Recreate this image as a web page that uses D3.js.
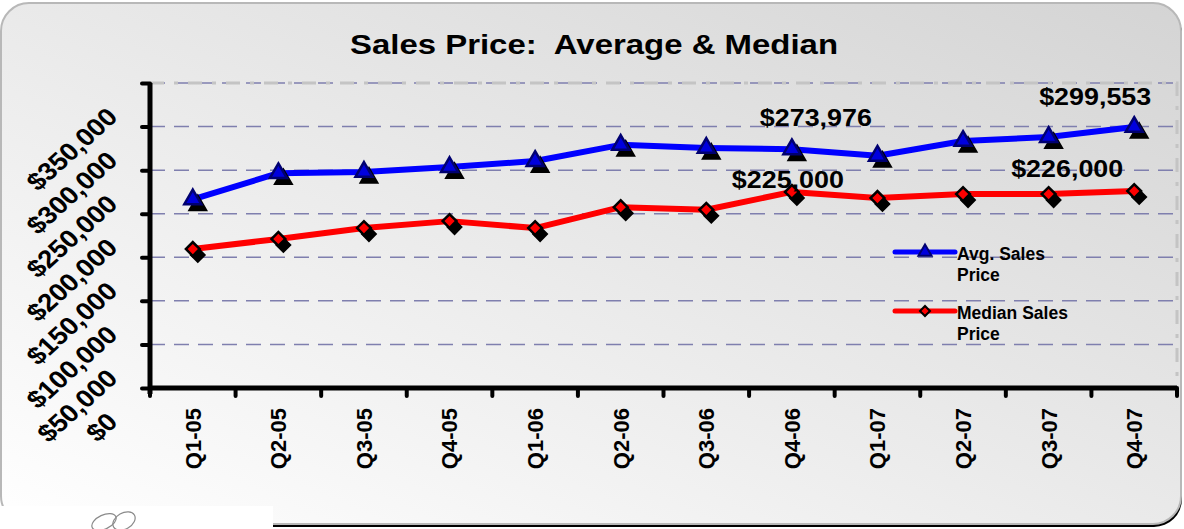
<!DOCTYPE html>
<html>
<head>
<meta charset="utf-8">
<script src="https://cdn.jsdelivr.net/npm/d3@7"></script>
<style>
  html, body { margin: 0; padding: 0; background: #fff; }
  svg { display: block; font-family: "Liberation Sans", Arial, sans-serif; }
</style>
</head>
<body>
<script>
const quarters = ["Q1-05", "Q2-05", "Q3-05", "Q4-05", "Q1-06", "Q2-06",
                  "Q3-06", "Q4-06", "Q1-07", "Q2-07", "Q3-07", "Q4-07"]
const avgPrice = [216500, 246500, 248000, 253500, 260500, 279000,
                  275500, 273976, 266500, 283500, 288000, 299553]
const medianPrice = [159500, 171000, 183500, 191500, 183500, 207500,
                     204500, 225000, 218000, 222500, 222500, 226000]
const yTicks = [0, 50000, 100000, 150000, 200000, 250000, 300000, 350000]
const seriesNames = ["Avg. Sales Price", "Median Sales Price"]
// which points get a value callout: [series, index]
const callouts = [["avg", 7], ["avg", 11], ["median", 7], ["median", 11]]

const width = 1184
const height = 529
const plotL = 150, plotR = 1177, plotT = 83, plotB = 388

const svg = d3.select("body").append("svg")
    .attr("width", width)
    .attr("height", height)

const defs = svg.append("defs")
const grad = defs.append("linearGradient")
    .attr("id", "bg")
    .attr("x1", 1).attr("y1", 0).attr("x2", 0).attr("y2", 1)
grad.append("stop").attr("offset", 0).attr("stop-color", "#d4d4d4")
grad.append("stop").attr("offset", 1).attr("stop-color", "#ffffff")

// panel + shadow
svg.append("rect")
    .attr("x", 2).attr("y", 6).attr("width", 1180).attr("height", 521)
    .attr("rx", 28).attr("fill", "#000")
svg.append("rect")
    .attr("x", 1).attr("y", 3).attr("width", 1180).attr("height", 521)
    .attr("rx", 28)
    .attr("fill", "url(#bg)")
    .attr("stroke", "#b8b8b8")
    .attr("stroke-width", 2)
svg.append("rect")
    .attr("x", 0).attr("y", 506).attr("width", 273).attr("height", 23)
    .attr("fill", "#fff")
// little logo scribble
const logo = svg.append("g")
    .attr("fill", "none")
    .attr("stroke", "#8a8a8a")
    .attr("stroke-width", 1.2)
logo.append("ellipse").attr("cx", 104).attr("cy", 522).attr("rx", 13).attr("ry", 7)
    .attr("transform", "rotate(-25,104,522)")
logo.append("ellipse").attr("cx", 124).attr("cy", 521).attr("rx", 12).attr("ry", 8)
    .attr("transform", "rotate(-30,124,521)")

// title
svg.append("text")
    .attr("transform", `translate(594,54) scale(1.22,1)`)
    .attr("text-anchor", "middle")
    .attr("font-size", 27)
    .attr("font-weight", "bold")
    .style("white-space", "pre")
    .text("Sales Price:  Average & Median")

const x = d3.scaleBand().domain(quarters).range([plotL, plotR])
const y = d3.scaleLinear().domain([0, 350000]).range([plotB, plotT])

// gridlines
svg.append("g")
    .selectAll("line")
    .data(yTicks.filter((d) => d > 0))
    .join("line")
    .attr("x1", plotL).attr("x2", plotR)
    .attr("y1", (d) => y(d)).attr("y2", (d) => y(d))
    .attr("stroke", "#7f7fae")
    .attr("stroke-width", 1.5)
    .attr("stroke-dasharray", "15,9")
// plot area border (top / right)
svg.append("path")
    .attr("d", `M${plotL},${plotT}H${plotR}V${plotB}`)
    .attr("fill", "none")
    .attr("stroke", "#c4c4c4")
    .attr("stroke-width", 3)
    .attr("stroke-dasharray", "14,10,4,10")

// y axis
const yAxis = svg.append("g")
    .attr("transform", `translate(${plotL},0)`)
    .call(d3.axisLeft(y).tickValues(yTicks).tickSize(8).tickFormat(d3.format("$,")))
yAxis.select(".domain").remove()
yAxis.selectAll(".tick line")
    .attr("stroke", "#000").attr("stroke-width", 4).attr("stroke-linecap", "round")
yAxis.selectAll(".tick text")
    .attr("x", null).attr("dy", null)
    .attr("transform", "translate(-31,35) scale(1.1,1) rotate(-45)")
    .attr("text-anchor", "end")
    .attr("font-size", 25)
    .attr("font-weight", "bold")
    .attr("font-family", "Liberation Sans, Arial, sans-serif")
    .attr("fill", "#000")

// x axis
const xAxis = svg.append("g")
    .attr("transform", `translate(0,${plotB})`)
    .call(d3.axisBottom(x).tickSize(0))
xAxis.select(".domain").remove()
xAxis.selectAll(".tick text")
    .attr("y", null).attr("dy", null)
    .attr("transform", "translate(0,20) rotate(-90)")
    .attr("dy", "0.36em")
    .attr("text-anchor", "end")
    .attr("font-size", 22)
    .attr("font-weight", "bold")
    .attr("font-family", "Liberation Sans, Arial, sans-serif")
    .attr("fill", "#000")
// boundary ticks between categories
svg.append("g")
    .selectAll("line")
    .data(quarters.map((q) => x(q)).concat([x(quarters[quarters.length - 1]) + x.bandwidth()]))
    .join("line")
    .attr("x1", (d) => d).attr("x2", (d) => d)
    .attr("y1", plotB).attr("y2", plotB + 8)
    .attr("stroke", "#000").attr("stroke-width", 4).attr("stroke-linecap", "round")

// axis lines
svg.append("line")
    .attr("x1", plotL).attr("x2", plotL).attr("y1", plotT).attr("y2", plotB + 6)
    .attr("stroke", "#000").attr("stroke-width", 5)
svg.append("line")
    .attr("x1", plotL - 2).attr("x2", plotR).attr("y1", plotB).attr("y2", plotB)
    .attr("stroke", "#000").attr("stroke-width", 5)

const cx = (i) => x(quarters[i]) + x.bandwidth() / 2
const line = d3.line().x((_, i) => cx(i)).y((d) => y(d))

const triangle = d3.symbol().type(d3.symbolTriangle).size(125)
const diamond = d3.symbol().type(d3.symbolSquare).size(95)

function drawSeries(values, color, marker, markerFill, markerStroke, rot) {
    svg.append("path")
        .attr("d", line(values))
        .attr("fill", "none")
        .attr("stroke", color)
        .attr("stroke-width", 6)
        .attr("stroke-linejoin", "round")
    const g = svg.append("g")
    g.selectAll("path.shadow")
        .data(values)
        .join("path")
        .attr("class", "shadow")
        .attr("d", marker())
        .attr("transform", (d, i) => `translate(${cx(i) + 5},${y(d) + 6}) rotate(${rot})`)
        .attr("fill", "#000")
        .attr("stroke", "#000")
        .attr("stroke-width", 2)
    g.selectAll("path.mark")
        .data(values)
        .join("path")
        .attr("class", "mark")
        .attr("d", marker())
        .attr("transform", (d, i) => `translate(${cx(i)},${y(d)}) rotate(${rot})`)
        .attr("fill", markerFill)
        .attr("stroke", markerStroke)
        .attr("stroke-width", 2.5)
}

drawSeries(avgPrice, "#0000ff", triangle, "#0000dd", "#000070", 0)
drawSeries(medianPrice, "#ff0000", diamond, "#ff0000", "#000", 45)

// callout labels
const labelOffsets = {
    "avg-7": [24, -23], "avg-11": [-39, -22],
    "median-7": [-4, -4], "median-11": [-67, -14],
}
const fmt = d3.format("$,")
svg.append("g")
    .selectAll("text")
    .data(callouts)
    .join("text")
    .attr("transform", ([s, i]) => {
        const v = s === "avg" ? avgPrice[i] : medianPrice[i]
        const [dx, dy] = labelOffsets[`${s}-${i}`]
        return `translate(${cx(i) + dx},${y(v) + dy}) scale(1.12,1)`
    })
    .attr("text-anchor", "middle")
    .attr("font-size", 24)
    .attr("font-weight", "bold")
    .text(([s, i]) => fmt(s === "avg" ? avgPrice[i] : medianPrice[i]))

// legend
const legend = svg.append("g")
const legendRows = [
    { name: seriesNames[0], color: "#0000ff", y: 252, fill: "#0000dd", stroke: "#000070", rot: 0, size: 75 },
    { name: seriesNames[1], color: "#ff0000", y: 311, fill: "#ff0000", stroke: "#000", rot: 45, size: 50 },
]
legendRows.forEach((r) => {
    legend.append("line")
        .attr("x1", 895).attr("x2", 955).attr("y1", r.y).attr("y2", r.y)
        .attr("stroke", r.color).attr("stroke-width", 5).attr("stroke-linecap", "round")
    legend.append("path")
        .attr("d", d3.symbol().type(r.rot ? d3.symbolSquare : d3.symbolTriangle).size(r.size)())
        .attr("transform", `translate(925,${r.y}) rotate(${r.rot})`)
        .attr("fill", r.fill).attr("stroke", r.stroke).attr("stroke-width", 2)
    const words = r.name.split(" ")
    const t = legend.append("text")
        .attr("x", 957).attr("y", r.y + 8)
        .attr("font-size", 17.5).attr("font-weight", "bold")
    t.append("tspan").text(words.slice(0, -1).join(" "))
    t.append("tspan").attr("x", 957).attr("dy", 21).text(words[words.length - 1])
})
</script>
</body>
</html>
